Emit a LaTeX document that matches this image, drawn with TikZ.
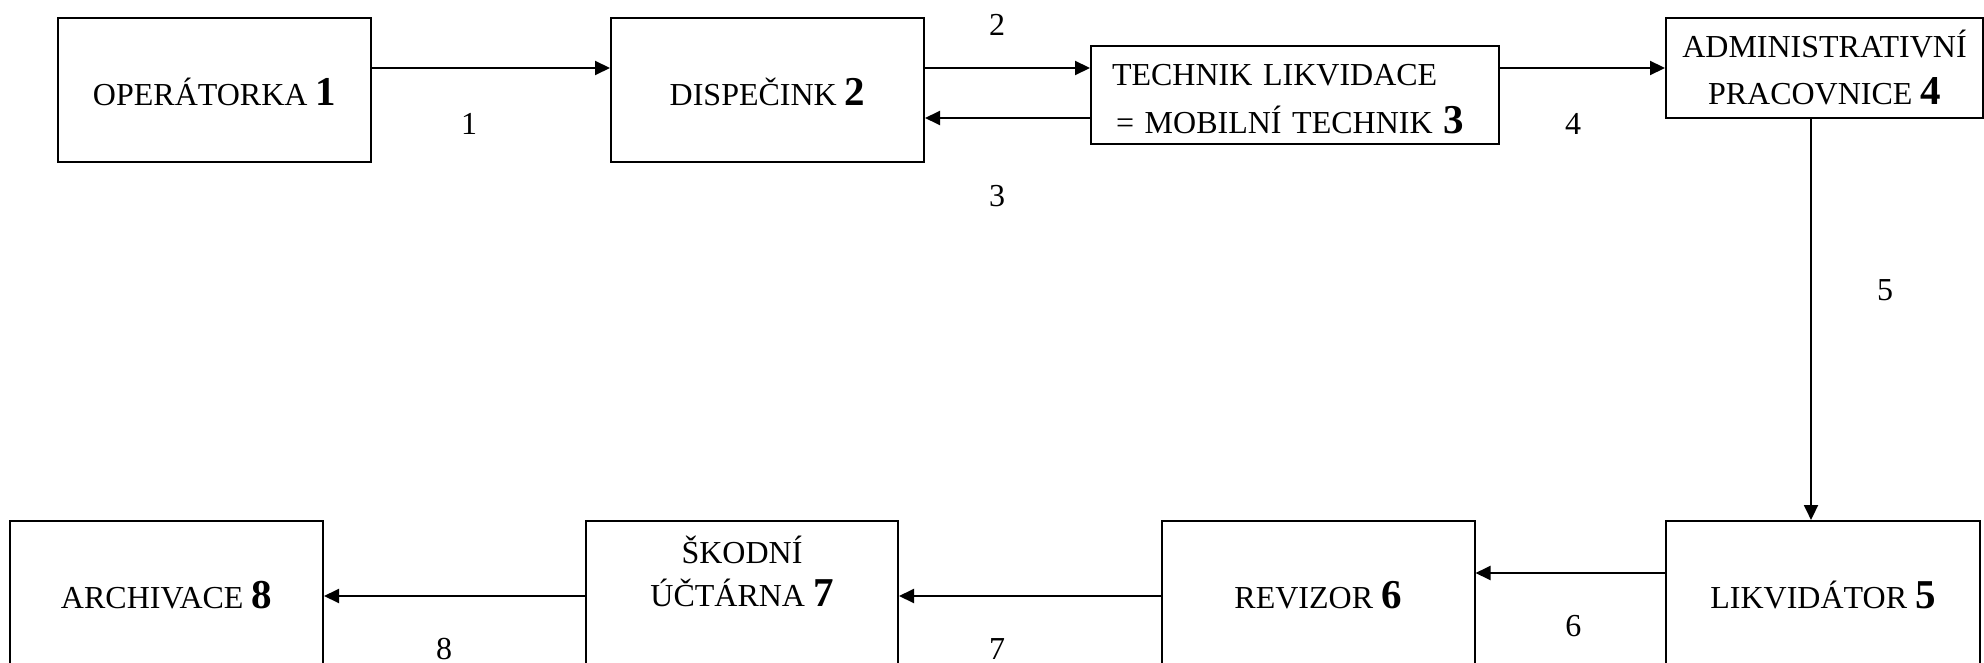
\documentclass[tikz,border=0pt]{standalone}
\usepackage{fontspec}
\setmainfont{Liberation Serif}
\usetikzlibrary{arrows.meta}
\newcommand\bnum[1]{\textbf{\fontsize{20.5}{24}\selectfont #1}}
\begin{document}
\begin{tikzpicture}[x=0.5pt,y=-0.5pt,
  box/.style={draw, line width=1pt, inner sep=0pt, align=center,
    font=\fontsize{16}{24}\selectfont},
  onebox/.style={box, minimum width=156.5pt, minimum height=72pt,
    text height=15.6pt, text depth=0pt},
  arr/.style={line width=1pt, -{Triangle[length=7.5pt,width=7pt]}},
  lbl/.style={font=\fontsize{16}{19}\selectfont, inner sep=0pt},
]
\useasboundingbox (0,0) rectangle (1984,663);
% top row
\node[onebox] (b1) at (214.5,90) {OPERÁTORKA \bnum{1}};
\node[onebox] (b2) at (767.5,90) {DISPEČINK \bnum{2}};
\node[box, align=left, text width=183pt, inner xsep=10.5pt,
  minimum height=49pt, text height=12pt, text depth=21.4pt] (b3) at (1295,95)
  {TECHNIK LIKVIDACE\\\hspace{2pt}= MOBILNÍ TECHNIK \bnum{3}};
\node[box, minimum width=158.5pt, minimum height=50pt,
  font=\fontsize{16}{23.5}\selectfont, text height=36.6pt, text depth=0pt]
  (b4) at (1824.5,68) {ADMINISTRATIVNÍ\\PRACOVNICE \bnum{4}};
% bottom row
\node[onebox, minimum width=157pt] (b5) at (1823,593) {LIKVIDÁTOR \bnum{5}};
\node[onebox] (b6) at (1318,593) {REVIZOR \bnum{6}};
\node[box, minimum width=156pt, minimum height=72pt,
  font=\fontsize{16}{21.5}\selectfont, text height=13.6pt, text depth=0pt]
  (b7) at (742,593) {ŠKODNÍ\\ÚČTÁRNA \bnum{7}};
\node[onebox] (b8) at (166.5,593) {ARCHIVACE \bnum{8}};
% connectors
\draw[arr] ([yshift=11pt]b1.east) -- node[lbl, pos=0.408, yshift=-28pt] (l1) {1} ([yshift=11pt]b2.west);
\draw[arr] ([yshift=13.5pt]b2.east |- b3.west) -- node[lbl, pos=0.437, yshift=21.5pt] (l2) {2} ([yshift=13.5pt]b3.west);
\draw[arr] ([yshift=-11.5pt]b3.west) -- node[lbl, pos=0.563, yshift=-39pt] (l3) {3} ([yshift=-11.5pt]b2.east |- b3.west);
\draw[arr] (b3.east |- b4.west) -- node[lbl, pos=0.443, yshift=-28pt] (l4) {4} (b4.west);
\draw[arr] ([xshift=-6.75pt]b4.south) -- node[lbl, pos=0.427, xshift=37pt] (l5) {5} ([xshift=-6.75pt]b4.south |- b5.north);
\draw[arr] ([yshift=10pt]b5.west) -- node[lbl, pos=0.484, yshift=-26.5pt] (l6) {6} ([yshift=10pt]b6.east);
\draw[arr] ([yshift=-1.5pt]b6.west) -- node[lbl, pos=0.625, yshift=-26.5pt] (l7) {7} ([yshift=-1.5pt]b7.east);
\draw[arr] ([yshift=-1.5pt]b7.west) -- node[lbl, pos=0.54, yshift=-26.5pt] (l8) {8} ([yshift=-1.5pt]b8.east);
\end{tikzpicture}
\end{document}
